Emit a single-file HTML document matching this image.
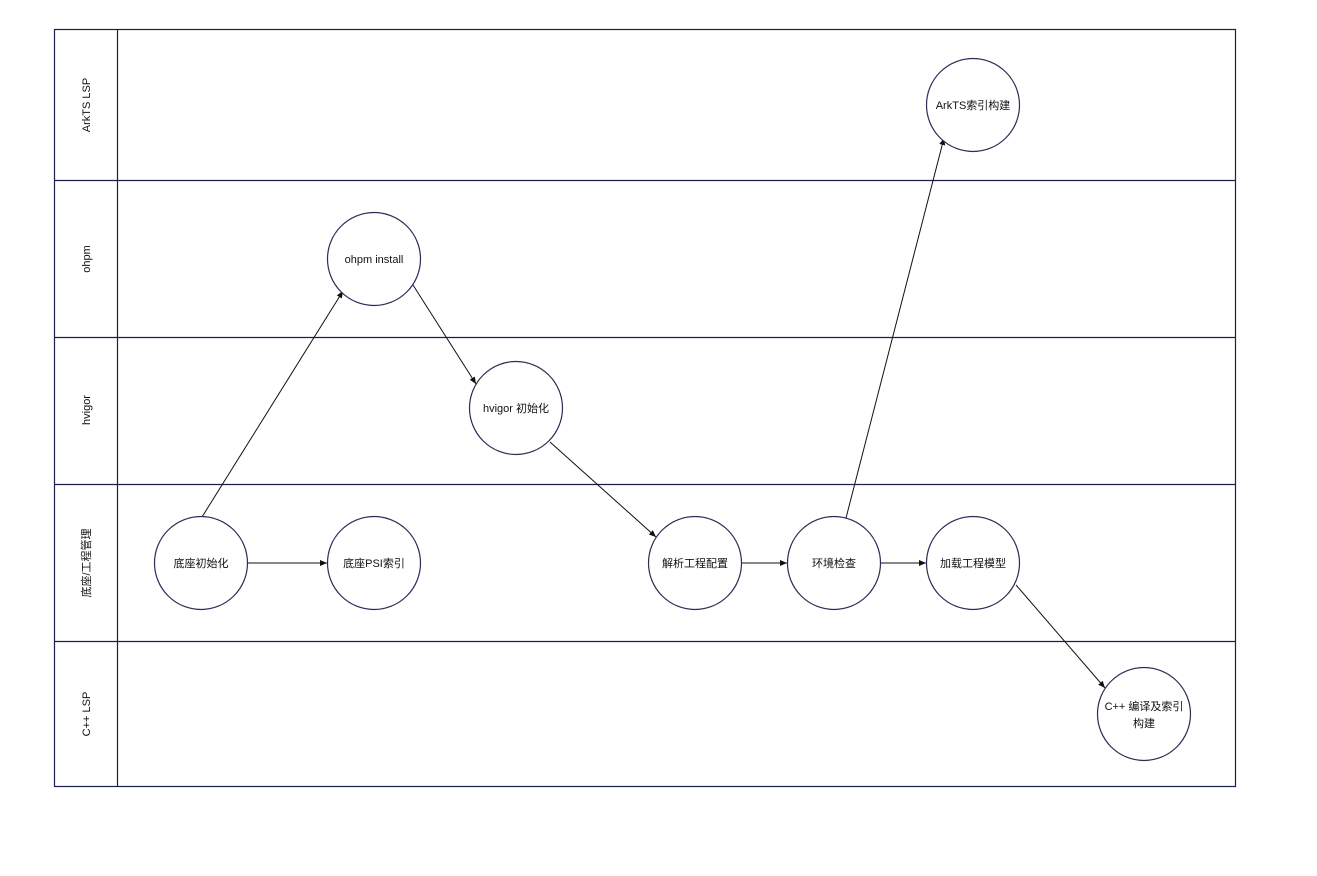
<!DOCTYPE html>
<html><head><meta charset="utf-8"><style>
html,body{margin:0;padding:0;background:#fff;}
svg{display:block;}
text{font-family:"Liberation Sans","Noto Sans CJK SC",sans-serif;font-size:11px;fill:#111;}
</style></head><body>
<svg width="1317" height="876" viewBox="0 0 1317 876" xmlns="http://www.w3.org/2000/svg">
<defs><marker id="a" markerWidth="8" markerHeight="8" refX="7" refY="4" orient="auto" markerUnits="userSpaceOnUse"><path d="M0,1 L7,4 L0,7 Z" fill="#111"/></marker></defs>
<g stroke="#1a1f4d" stroke-width="1.2" fill="none">
<rect x="54.5" y="29.5" width="1181" height="757"/>
<line x1="117.5" y1="29.5" x2="117.5" y2="786.5"/>
<line x1="54.5" y1="180.5" x2="1235.5" y2="180.5"/>
<line x1="54.5" y1="337.5" x2="1235.5" y2="337.5"/>
<line x1="54.5" y1="484.5" x2="1235.5" y2="484.5"/>
<line x1="54.5" y1="641.5" x2="1235.5" y2="641.5"/>
</g>
<g text-anchor="middle">
<text transform="translate(90,105) rotate(-90)">ArkTS LSP</text>
<text transform="translate(90,259) rotate(-90)">ohpm</text>
<text transform="translate(90,410) rotate(-90)">hvigor</text>
<text transform="translate(90,563) rotate(-90)">底座/工程管理</text>
<text transform="translate(90,714) rotate(-90)">C++ LSP</text>
</g>
<g stroke="#111" stroke-width="1" fill="none" marker-end="url(#a)">
<line x1="202" y1="517" x2="343" y2="291"/>
<line x1="247" y1="563" x2="327" y2="563"/>
<line x1="413" y1="285" x2="476" y2="384"/>
<line x1="550" y1="442" x2="656" y2="537"/>
<line x1="742" y1="563" x2="787" y2="563"/>
<line x1="846" y1="518" x2="944" y2="138"/>
<line x1="881" y1="563" x2="926" y2="563"/>
<line x1="1016" y1="585" x2="1105" y2="688"/>
</g>
<g stroke="#2a2d55" stroke-width="1.2" fill="#fff">
<circle cx="973" cy="105" r="46.5"/>
<circle cx="374" cy="259" r="46.5"/>
<circle cx="516" cy="408" r="46.5"/>
<circle cx="201" cy="563" r="46.5"/>
<circle cx="374" cy="563" r="46.5"/>
<circle cx="695" cy="563" r="46.5"/>
<circle cx="834" cy="563" r="46.5"/>
<circle cx="973" cy="563" r="46.5"/>
<circle cx="1144" cy="714" r="46.5"/>
</g>
<g text-anchor="middle">
<text x="973" y="109">ArkTS索引构建</text>
<text x="374" y="263">ohpm install</text>
<text x="516" y="412">hvigor 初始化</text>
<text x="201" y="567">底座初始化</text>
<text x="374" y="567">底座PSI索引</text>
<text x="695" y="567">解析工程配置</text>
<text x="834" y="567">环境检查</text>
<text x="973" y="567">加载工程模型</text>
<text x="1144" y="710">C++ 编译及索引</text>
<text x="1144" y="727">构建</text>
</g>
</svg>
</body></html>
